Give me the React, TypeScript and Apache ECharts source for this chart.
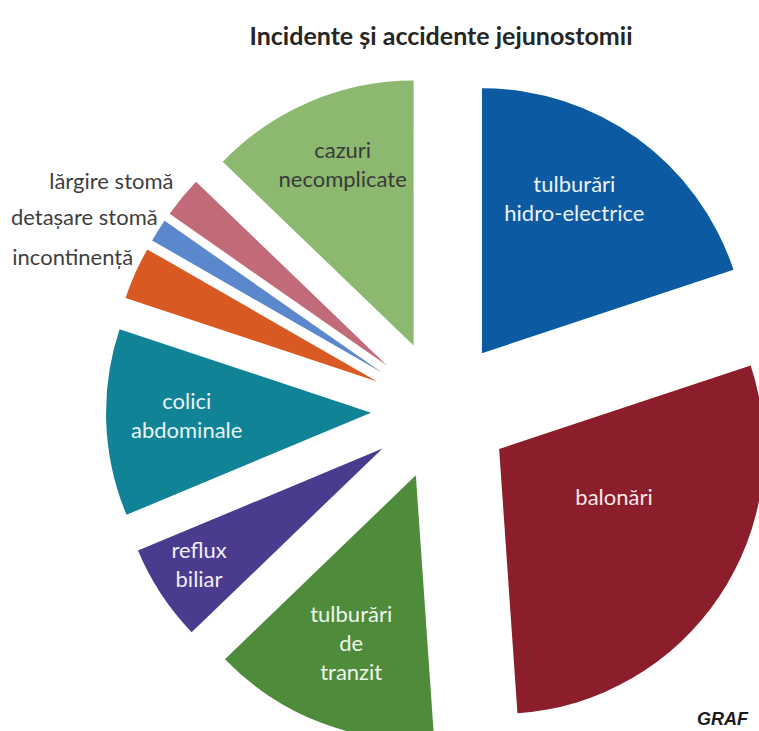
import React, { useEffect, useRef } from "react";
import * as echarts from "echarts";

const TITLE = "Incidente și accidente jejunostomii";
const CATEGORIES = [
  "tulburări\nhidro-electrice",
  "balonări",
  "tulburări\nde\ntranzit",
  "reflux\nbiliar",
  "colici\nabdominale",
  "incontinență",
  "detașare stomă",
  "lărgire stomă",
  "cazuri\nnecomplicate",
];
const VALUES = [19.9, 29.0, 13.9, 5.9, 11.4, 3.2, 1.4, 2.5, 12.8];
const COLORS = [
  "#0b5aa2",
  "#8c1d2b",
  "#4e8c3c",
  "#4a3b8e",
  "#118397",
  "#d85a22",
  "#5b87cc",
  "#c26b78",
  "#8cb86f",
];
const OUTSIDE = [false, false, false, false, false, true, true, true, false];
const LABEL_COLORS = ["#eef2f8", "#f6e8ea", "#eef5ea", "#efeef8", "#eaf5f7", "#404040", "#404040", "#404040", "#3a3a3a"];
// extra radial shift (px) of inside labels beyond ECharts' default mid-radius
const LABEL_SHIFT = [48, -8, 50, 84, 44, 0, 0, 0, 56];
// small extra nudges [dx, dy] of labels
const LABEL_NUDGE = [
  [-15, -6],
  [9, -23],
  [2, -6],
  [0, -5],
  [-5, -4],
  [11, -13],
  [12, -9],
  [3, -10],
  [4, -5],
];

export default function App() {
  const ref = useRef<HTMLDivElement>(null);
  useEffect(() => {
    if (!ref.current) return;
    const chart = echarts.init(ref.current, null, { renderer: "svg" });
    const total = VALUES.reduce((a, b) => a + b, 0);
    const mids: number[] = [];
    let cum = 0;
    VALUES.forEach((v) => {
      mids.push(((cum + v / 2) / total) * Math.PI * 2);
      cum += v;
    });
    const font = "Lato, 'Open Sans', sans-serif";
    chart.setOption({
      animation: false,
      backgroundColor: "#ffffff",
      title: {
        text: TITLE,
        left: 436,
        top: 17,
        textAlign: "center",
        textStyle: { fontFamily: font, fontWeight: "bold", fontSize: 25, color: "#262626" },
      },
      graphic: [
        {
          type: "text",
          left: 697,
          top: 710,
          style: {
            text: "GRAF",
            font: "italic bold 18px 'Liberation Sans', Arial, sans-serif",
            fill: "#1a1a1a",
          },
        },
      ],
      series: [
        {
          type: "pie",
          center: [441, 410],
          radius: 265,
          startAngle: 90,
          clockwise: true,
          selectedMode: "multiple",
          selectedOffset: 70,
          avoidLabelOverlap: false,
          emphasis: { disabled: true },
          itemStyle: { borderWidth: 0 },
          label: {
            position: "inside",
            fontFamily: font,
            fontSize: 22,
            lineHeight: 29,
            align: "center",
          },
          labelLine: { show: false },
          labelLayout: (params: any) => {
            const i = params.dataIndex;
            const s = LABEL_SHIFT[i] || 0;
            const n = LABEL_NUDGE[i] || [0, 0];
            return { dx: s * Math.sin(mids[i]) + n[0], dy: -s * Math.cos(mids[i]) + n[1] };
          },
          data: CATEGORIES.map((name, i) => ({
            name,
            value: VALUES[i],
            selected: true,
            itemStyle: { color: COLORS[i] },
            label: OUTSIDE[i]
              ? { position: "outside", color: LABEL_COLORS[i], distanceToLabelLine: 4 }
              : { position: "inside", color: LABEL_COLORS[i] },
            labelLine: OUTSIDE[i] ? { show: false, length: 10, length2: 0 } : { show: false },
          })),
        },
      ],
    });
    return () => chart.dispose();
  }, []);
  return (
    <div
      ref={ref}
      style={{ position: "fixed", left: 0, top: 0, width: 759, height: 731, background: "#fff" }}
    />
  );
}
